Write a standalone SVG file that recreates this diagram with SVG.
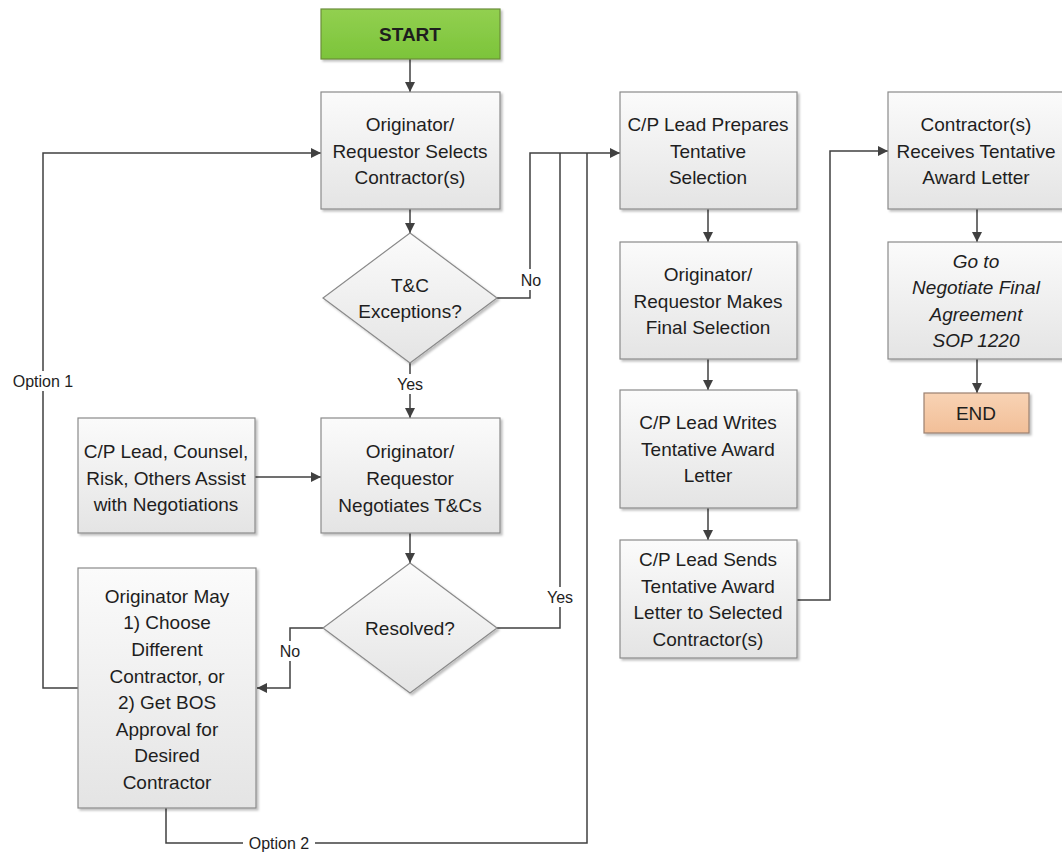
<svg xmlns="http://www.w3.org/2000/svg" width="1062" height="852" viewBox="0 0 1062 852">
  <defs>
    <linearGradient id="gBox" x1="0" y1="0" x2="0" y2="1">
      <stop offset="0" stop-color="#fbfbfb"/>
      <stop offset="1" stop-color="#e4e4e4"/>
    </linearGradient>
    <linearGradient id="gStart" x1="0" y1="0" x2="0" y2="1">
      <stop offset="0" stop-color="#92d050"/>
      <stop offset="1" stop-color="#7cc43a"/>
    </linearGradient>
    <linearGradient id="gEnd" x1="0" y1="0" x2="0" y2="1">
      <stop offset="0" stop-color="#f8d3b4"/>
      <stop offset="1" stop-color="#f2bf98"/>
    </linearGradient>
    <filter id="shadow" x="-10%" y="-10%" width="130%" height="130%">
      <feDropShadow dx="2" dy="2" stdDeviation="1.2" flood-color="#000" flood-opacity="0.25"/>
    </filter>
    <marker id="arrow" viewBox="0 0 10 10" refX="10" refY="5" markerWidth="10" markerHeight="10" markerUnits="userSpaceOnUse" orient="auto">
      <path d="M0,0 L10,5 L0,10 z" fill="#404040"/>
    </marker>
  </defs>
  <style>
    .box { fill: url(#gBox); stroke: #8a8a8a; stroke-width: 1.2; filter: url(#shadow); }
    .start { fill: url(#gStart); stroke: #6b8e3a; stroke-width: 1.2; filter: url(#shadow); }
    .end { fill: url(#gEnd); stroke: #9a8070; stroke-width: 1.2; filter: url(#shadow); }
    .t { font-family: "Liberation Sans", Arial, sans-serif; font-size: 19px; fill: #1e1e1e; text-anchor: middle; }
    .it { font-style: italic; }
    .b { font-weight: bold; }
    .lbl { font-family: "Liberation Sans", Arial, sans-serif; font-size: 16px; fill: #1e1e1e; text-anchor: middle; }
    .wire { fill: none; stroke: #404040; stroke-width: 1.5; }
    .bg { fill: #ffffff; }
  </style>
  <rect width="1062" height="852" fill="#ffffff"/>

  <!-- connectors -->
  <g id="connectors">
    <path class="wire" d="M410,59 V92" marker-end="url(#arrow)"/>
    <path class="wire" d="M410,209 V233" marker-end="url(#arrow)"/>
    <path class="wire" d="M497,298 H530 V153 H620" marker-end="url(#arrow)"/>
    <path class="wire" d="M410,363 V418" marker-end="url(#arrow)"/>
    <path class="wire" d="M255,477 H321" marker-end="url(#arrow)"/>
    <path class="wire" d="M410,533 V563" marker-end="url(#arrow)"/>
    <path class="wire" d="M497,628 H560 V153"/>
    <path class="wire" d="M323,628 H290 V688 H257" marker-end="url(#arrow)"/>
    <path class="wire" d="M78,688 H43 V153 H321" marker-end="url(#arrow)"/>
    <path class="wire" d="M166,808 V843 H587 V153"/>
    <path class="wire" d="M708,209 V242" marker-end="url(#arrow)"/>
    <path class="wire" d="M708,359 V390" marker-end="url(#arrow)"/>
    <path class="wire" d="M708,508 V540" marker-end="url(#arrow)"/>
    <path class="wire" d="M797,600 H830 V151 H888" marker-end="url(#arrow)"/>
    <path class="wire" d="M977,209 V242" marker-end="url(#arrow)"/>
    <path class="wire" d="M977,359 V393" marker-end="url(#arrow)"/>

    <!-- connector labels -->
    <rect class="bg" x="516" y="269" width="30" height="21"/>
    <text class="lbl" x="531" y="286">No</text>
    <rect class="bg" x="393" y="374" width="34" height="20"/>
    <text class="lbl" x="410" y="390">Yes</text>
    <rect class="bg" x="543" y="587" width="34" height="20"/>
    <text class="lbl" x="560" y="603">Yes</text>
    <rect class="bg" x="275" y="641" width="30" height="20"/>
    <text class="lbl" x="290" y="657">No</text>
    <rect class="bg" x="8" y="371" width="70" height="20"/>
    <text class="lbl" x="43" y="387">Option 1</text>
    <rect class="bg" x="243" y="833" width="72" height="19"/>
    <text class="lbl" x="279" y="849">Option 2</text>
  </g>

  <g id="start">
    <rect class="start" x="321" y="9" width="179" height="50"/>
    <text class="t b" x="410" y="41">START</text>
  </g>

  <g id="select-contractor">
    <rect class="box" x="321" y="92" width="179" height="117"/>
    <text class="t" x="410" y="131">Originator/</text>
    <text class="t" x="410" y="158">Requestor Selects</text>
    <text class="t" x="410" y="184">Contractor(s)</text>
  </g>

  <g id="tc-exceptions">
    <polygon class="box" points="410,233 497,298 410,363 323,298"/>
    <text class="t" x="410" y="292">T&amp;C</text>
    <text class="t" x="410" y="318">Exceptions?</text>
  </g>

  <g id="assist">
    <rect class="box" x="78" y="418" width="177" height="115"/>
    <text class="t" x="166" y="458">C/P Lead, Counsel,</text>
    <text class="t" x="166" y="485">Risk, Others Assist</text>
    <text class="t" x="166" y="511">with Negotiations</text>
  </g>

  <g id="negotiate">
    <rect class="box" x="321" y="418" width="179" height="115"/>
    <text class="t" x="410" y="458">Originator/</text>
    <text class="t" x="410" y="485">Requestor</text>
    <text class="t" x="410" y="512">Negotiates T&amp;Cs</text>
  </g>

  <g id="resolved">
    <polygon class="box" points="410,563 497,628 410,693 323,628"/>
    <text class="t" x="410" y="635">Resolved?</text>
  </g>

  <g id="originator-may">
    <rect class="box" x="78" y="568" width="178" height="240"/>
    <text class="t" x="167" y="603">Originator May</text>
    <text class="t" x="167" y="629">1) Choose</text>
    <text class="t" x="167" y="656">Different</text>
    <text class="t" x="167" y="683">Contractor, or</text>
    <text class="t" x="167" y="709">2) Get BOS</text>
    <text class="t" x="167" y="736">Approval for</text>
    <text class="t" x="167" y="762">Desired</text>
    <text class="t" x="167" y="789">Contractor</text>
  </g>

  <g id="prepares">
    <rect class="box" x="620" y="92" width="177" height="117"/>
    <text class="t" x="708" y="131">C/P Lead Prepares</text>
    <text class="t" x="708" y="158">Tentative</text>
    <text class="t" x="708" y="184">Selection</text>
  </g>

  <g id="final-selection">
    <rect class="box" x="620" y="242" width="177" height="117"/>
    <text class="t" x="708" y="281">Originator/</text>
    <text class="t" x="708" y="308">Requestor Makes</text>
    <text class="t" x="708" y="334">Final Selection</text>
  </g>

  <g id="writes">
    <rect class="box" x="620" y="390" width="177" height="118"/>
    <text class="t" x="708" y="429">C/P Lead Writes</text>
    <text class="t" x="708" y="456">Tentative Award</text>
    <text class="t" x="708" y="482">Letter</text>
  </g>

  <g id="sends">
    <rect class="box" x="620" y="540" width="177" height="118"/>
    <text class="t" x="708" y="566">C/P Lead Sends</text>
    <text class="t" x="708" y="593">Tentative Award</text>
    <text class="t" x="708" y="619">Letter to Selected</text>
    <text class="t" x="708" y="646">Contractor(s)</text>
  </g>

  <g id="receives">
    <rect class="box" x="888" y="92" width="176" height="117"/>
    <text class="t" x="976" y="131">Contractor(s)</text>
    <text class="t" x="976" y="158">Receives Tentative</text>
    <text class="t" x="976" y="184">Award Letter</text>
  </g>

  <g id="go-to">
    <rect class="box" x="888" y="242" width="176" height="117"/>
    <text class="t it" x="976" y="268">Go to</text>
    <text class="t it" x="976" y="294">Negotiate Final</text>
    <text class="t it" x="976" y="321">Agreement</text>
    <text class="t it" x="976" y="347">SOP 1220</text>
  </g>

  <g id="end">
    <rect class="end" x="924" y="393" width="105" height="40"/>
    <text class="t" x="976" y="420">END</text>
  </g>
</svg>
